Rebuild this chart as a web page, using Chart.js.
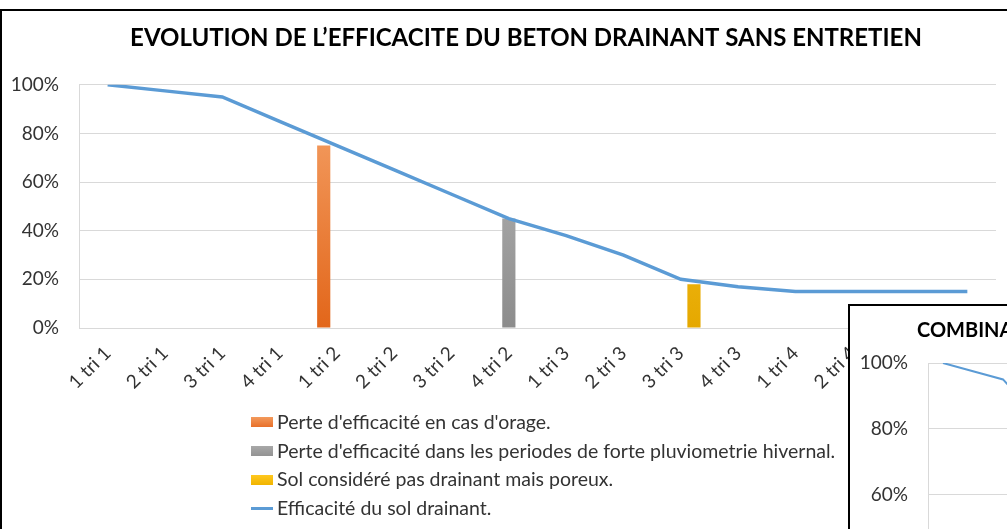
<!DOCTYPE html>
<html><head><meta charset="utf-8">
<script src="https://cdn.jsdelivr.net/npm/chart.js@4.4.1/dist/chart.umd.min.js"></script>
<style>
html,body{margin:0;padding:0;width:1007px;height:529px;overflow:hidden;background:#fff;font-family:Lato,sans-serif;}
#wrap1{position:absolute;left:0;top:0;width:1108px;height:529px;}
#frame{position:absolute;left:0;top:9px;width:1100px;height:600px;border:2px solid #000;box-sizing:border-box;pointer-events:none;}
#legend{position:absolute;left:251px;top:408px;font-family:Lato,sans-serif;font-size:19.5px;color:#333;}
#legend .it{height:28.7px;line-height:28.7px;white-space:nowrap;display:flex;align-items:center;}
#legend .sw{display:inline-block;width:22px;margin-right:4px;}
#box2{position:absolute;left:848px;top:304px;width:700px;height:500px;border:2px solid #000;background:#fff;}
#t2{position:absolute;left:67px;top:11px;font-family:Lato,sans-serif;font-weight:bold;font-size:20px;color:#000;white-space:nowrap;}
#wrap2{position:absolute;left:0;top:0;width:600px;height:480px;}
</style></head>
<body>
<div id="wrap1"><canvas id="c1" width="1108" height="529"></canvas></div>
<div id="frame"></div>
<div id="legend"></div>
<div id="box2"><div id="wrap2"><canvas id="c2" width="600" height="480"></canvas></div><div id="t2">COMBINAISON</div></div>
<script>
const categories = ['1 tri 1','2 tri 1','3 tri 1','4 tri 1','1 tri 2','2 tri 2','3 tri 2','4 tri 2','1 tri 3','2 tri 3','3 tri 3','4 tri 3','1 tri 4','2 tri 4','3 tri 4','4 tri 4'];
const efficacite = [1.00,0.975,0.95,0.85,0.75,0.65,0.55,0.45,0.38,0.30,0.20,0.17,0.15,0.15,0.15,0.15];
const perteOrage = [null,null,null,null,0.75,null,null,null,null,null,null,null,null,null,null,null];
const perteHiver = [null,null,null,null,null,null,null,0.45,null,null,null,null,null,null,null,null];
const solPoreux = [null,null,null,null,null,null,null,null,null,null,0.18,null,null,null,null,null];
const yTickLabels = ['0%','20%','40%','60%','80%','100%'];
const combiEfficacite = [1.00,0.975,0.95,0.85,0.75,0.65,0.55,0.45,0.38,0.30,0.20,0.17,0.15,0.15,0.15,0.15];
const labels = {
  orage: "Perte d'efficacité en cas d'orage.",
  hiver: "Perte d'efficacité dans les periodes de forte pluviometrie hivernal.",
  poreux: "Sol considéré pas drainant mais poreux.",
  eff: "Efficacité du sol drainant."
};

function grad(top, bottom){
  return function(ctx){
    const ch = ctx.chart, a = ch.chartArea;
    if(!a) return bottom;
    const g = ch.ctx.createLinearGradient(0, a.top, 0, a.bottom);
    g.addColorStop(0, top); g.addColorStop(1, bottom);
    return g;
  };
}
const tickFont = {family:'Lato', size:19};
const tickColor = '#333';
const gridColor = '#d9d9d9';

// shift the title block so it is centred like the reference
const titleShift = {
  id:'titleShift',
  afterLayout(chart){ if(chart.titleBlock){ chart.titleBlock.left = 56; } }
};

const chart1 = new Chart(document.getElementById('c1'), {
  data: {
    labels: categories,
    datasets: [
      {type:'bar', label:labels.orage, data:perteOrage, backgroundColor:grad('#f6a56c','#e2661a'), order:1, swatch:'linear-gradient(#f39a5c,#e8702a)'},
      {type:'bar', label:labels.hiver, data:perteHiver, backgroundColor:grad('#bdbdbd','#8c8c8c'), order:1, swatch:'linear-gradient(#a8a8a8,#939393)'},
      {type:'bar', label:labels.poreux, data:solPoreux, backgroundColor:grad('#ffcc2e','#e5a800'), order:1, swatch:'linear-gradient(#ffc81f,#f0b400)'},
      {type:'line', label:labels.eff, data:efficacite, borderColor:'#5b9bd5', borderWidth:3.5, pointRadius:0, tension:0, fill:false, order:0}
    ]
  },
  plugins:[titleShift],
  options: {
    responsive:false, animation:false, devicePixelRatio:1,
    layout:{padding:{left:0,right:112,top:0,bottom:131}},
    datasets:{bar:{categoryPercentage:0.69, barPercentage:1.0}},
    plugins:{
      legend:{display:false}, tooltip:{enabled:false},
      title:{display:true, text:'EVOLUTION DE L\u2019EFFICACITE DU BETON DRAINANT SANS ENTRETIEN',
        color:'#000', font:{family:'Lato', size:24, weight:'bold'}, padding:{top:24,bottom:32}}
    },
    scales:{
      x:{grid:{display:false}, border:{display:true,color:gridColor},
        ticks:{font:tickFont,color:tickColor,minRotation:45,maxRotation:45,autoSkip:false,padding:6},
        afterFit:s=>{s.height=70;}},
      y:{min:0,max:1, grid:{color:gridColor, drawTicks:false}, border:{display:true,color:gridColor},
        ticks:{stepSize:0.2, font:tickFont, color:tickColor, padding:20,
          callback:(v,i)=>yTickLabels[i]},
        afterFit:s=>{s.width=79;}}
    }
  }
});

// HTML legend from chart datasets
const lg = document.getElementById('legend');
chart1.data.datasets.forEach(ds=>{
  const it = document.createElement('div'); it.className='it';
  const sw = document.createElement('span'); sw.className='sw';
  if(ds.type==='line'){ sw.style.height='3px'; sw.style.background=ds.borderColor; }
  else { sw.style.height='10px'; sw.style.background=ds.swatch; }
  it.appendChild(sw); it.appendChild(document.createTextNode(ds.label));
  lg.appendChild(it);
});

new Chart(document.getElementById('c2'), {
  type:'line',
  data:{labels:categories, datasets:[{label:labels.eff, data:combiEfficacite, borderColor:'#5b9bd5', borderWidth:2, pointRadius:0, tension:0}]},
  options:{
    responsive:false, animation:false, devicePixelRatio:1,
    layout:{padding:{left:0,right:42,top:57,bottom:34}},
    plugins:{legend:{display:false},tooltip:{enabled:false},title:{display:false}},
    scales:{
      x:{offset:true, grid:{display:false}, border:{color:gridColor}, ticks:{font:tickFont,color:tickColor,minRotation:45,maxRotation:45,autoSkip:false},
        afterFit:s=>{s.height=60;}},
      y:{min:0,max:1, grid:{color:gridColor,drawTicks:false}, border:{display:true,color:gridColor},
        ticks:{stepSize:0.2,font:tickFont,color:tickColor,padding:20,callback:(v,i)=>yTickLabels[i]},
        afterFit:s=>{s.width=78;}}
    }
  }
});
</script>
</body></html>
